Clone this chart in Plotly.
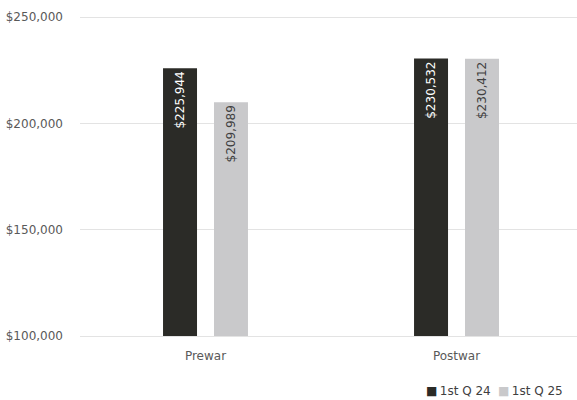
import plotly.graph_objects as go

categories = ["Prewar", "Postwar"]
series_names = ["1st Q 24", "1st Q 25"]
q24 = [225944, 230532]
q25 = [209989, 230412]
colors = ["#2b2b27", "#c9c9cb"]
text_colors = ["#ffffff", "#404040"]
y_ticks = [100000, 150000, 200000, 250000]
y_tick_labels = ["$100,000", "$150,000", "$200,000", "$250,000"]

FONT = "DejaVu Sans"

fig = go.Figure()
for name, vals, c, tc in zip(series_names, [q24, q25], colors, text_colors):
    fig.add_trace(go.Bar(
        x=categories, y=vals, name=name,
        marker=dict(color=c, line=dict(width=0)),
        text=[f"${v:,}" for v in vals],
        textposition="inside", insidetextanchor="end", textangle=-90,
        textfont=dict(color=tc, size=12, family=FONT),
        hoverinfo="skip",
    ))

# legend drawn as compact annotations (square + name)
legend_right = [0.830, 0.976]
for name, c, xr in zip(series_names, colors, legend_right):
    fig.add_annotation(
        xref="paper", yref="paper", x=xr, y=-0.172, xanchor="right", yanchor="middle",
        text=f"<span style='color:{c}'>■</span>\u2009{name}", showarrow=False,
        font=dict(family=FONT, size=12, color="#404040"),
    )

fig.update_layout(
    width=577, height=400,
    margin=dict(l=80, r=0, t=15, b=64, autoexpand=False),
    paper_bgcolor="white", plot_bgcolor="white",
    barmode="group", bargap=0.594, bargroupgap=0.333,
    font=dict(family=FONT, size=12, color="#595959"),
    showlegend=False,
)
fig.update_xaxes(range=[-0.5, 1.48], showgrid=False, showline=True, linecolor="#e3e3e3",
                 linewidth=1, ticks="",
                 ticklabelstandoff=9, tickfont=dict(size=12, color="#595959", family=FONT))
fig.update_yaxes(range=[100000, 251000], tickvals=y_ticks, ticktext=y_tick_labels,
                 showgrid=True, gridcolor="#e3e3e3", gridwidth=1, zeroline=False,
                 showline=False, ticks="", ticklabelstandoff=16,
                 tickfont=dict(size=12, color="#595959", family=FONT))

fig.write_html("out.html", config={"displayModeBar": False},
               post_script="document.body.style.margin='0';")
